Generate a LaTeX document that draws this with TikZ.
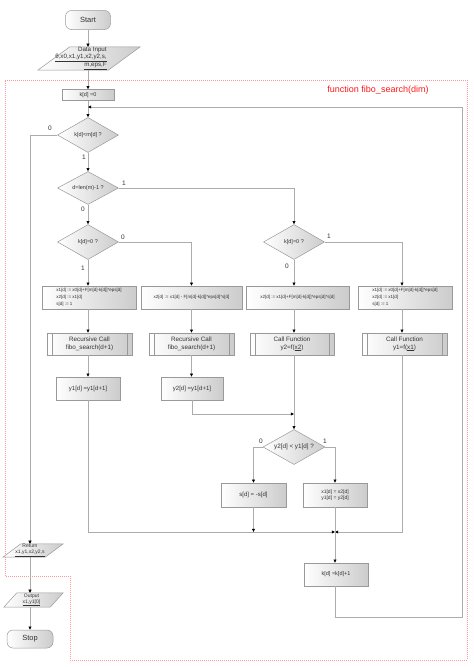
\documentclass[tikz,border=0pt]{standalone}
\usepackage{fontspec}
\setmainfont{Liberation Sans}
\usetikzlibrary{shapes.geometric,arrows.meta,backgrounds}
\newcommand\myfs[2]{\fontsize{#1}{#2}\selectfont}
\newcommand\mypara[2]{\path[parafill] ([xshift=#2]#1.north west) -- (#1.north east) -- ([xshift=-#2]#1.south east) -- (#1.south west) -- cycle;}
\begin{document}
\begin{tikzpicture}[x=1pt,y=-1pt,
  box/.style={draw=gray!80, line width=0.5pt, left color=white, right color=gray!40, text=black!80, inner sep=1pt, align=center},
  parafill/.style={draw=gray!80, line width=0.5pt, left color=white, right color=gray!40},
  term/.style={box, rectangle, rounded corners=6pt, minimum width=45, minimum height=19, font=\myfs{7.5}{9}},
  proc/.style={box, rectangle, minimum width=#1, minimum height=23, font=\myfs{4.5}{6.8}},
  small/.style={box, rectangle, minimum width=#1, minimum height=23, font=\myfs{6}{7.5}},
  sub/.style={box, rectangle, minimum width=85, minimum height=22, font=\myfs{6.3}{7.6},
    path picture={
      \draw[gray!80, line width=0.5pt] ([xshift=5pt]path picture bounding box.north west) -- ([xshift=5pt]path picture bounding box.south west);
      \draw[gray!80, line width=0.5pt] ([xshift=-5pt]path picture bounding box.north east) -- ([xshift=-5pt]path picture bounding box.south east);}},
  dia/.style={box, diamond, aspect=1.75, minimum width=61, minimum height=35, inner sep=0pt, font=\myfs{5.5}{6.5}},
  iohold/.style={rectangle, inner sep=0pt},
  iotext/.style={align=right, inner sep=0pt, text=black!80},
  conn/.style={draw=gray!65, line width=0.6pt},
  arr/.style={conn, -{Triangle[length=3.2pt,width=3pt,color=black]}},
  lbl/.style={font=\myfs{6.5}{7.5}, text=black!80, inner sep=0pt},
  frame/.style={draw=red!40, line width=0.6pt, dash pattern=on 1pt off 1pt}
]
\useasboundingbox (0,0) rectangle (474,667);

% frame of the function
\draw[frame] (5,80) -- (467,80) -- (467,660) -- (70,660) -- (70,576) -- (5,576) -- cycle;
\node[font=\myfs{9}{10}, text=red!90, inner sep=0pt] (fname) at (378,90) {function fibo\_search(dim)};

% nodes
\node[term] (start) at (88,20) {Start};
\node[iohold, minimum width=102, minimum height=23,
  label={[iotext, font=\myfs{6.2}{7.2}, xshift=-8pt]center:Data Input\\ \underline{θ,x0,x1,y1,x2,y2,s,}\\ \underline{m,eps,F}}] (input) at (89,58.5) {};
\node[small=52, minimum height=11, font=\myfs{5.5}{6.5}] (kinit) at (88,95) {k[d] =0};

\node[dia] (d1) at (88,135) {k[d]<m[d] ?};
\node[dia, minimum height=33] (d2) at (88,188) {d=len(m)-1 ?};
\node[dia] (d3) at (88,242) {k[d]=0 ?};
\node[dia] (d4) at (294,242) {k[d]=0 ?};

\node[proc=94, align=left] (p1) at (89,297.5) {x1[d] := x0[d]+F[m[d]-k[d]]*eps[d]\\ x2[d] := x1[d]\\ s[d] := 1};
\node[proc=101] (p2) at (191.5,297.5) {x2[d] := x1[d] - F[m[d]-k[d]]*eps[d]*s[d]};
\node[proc=103] (p3) at (297.5,297.5) {x2[d] := x1[d]+F[m[d]-k[d]]*eps[d]*s[d]};
\node[proc=94, align=left] (p4) at (405,297.5) {x1[d] := x0[d]+F[m[d]-k[d]]*eps[d]\\ x2[d] := x1[d]\\ s[d] := 1};

\node[sub] (s1) at (89.5,344) {Recursive Call\\ fibo\_search(d+1)};
\node[sub] (s2) at (191.5,344) {Recursive Call\\ fibo\_search(d+1)};
\node[sub, minimum width=84] (s3) at (292,344) {Call Function\\ y2=f(\underline{x2})};
\node[sub] (s4) at (404.5,344) {Call Function\\ y1=f(\underline{x1})};

\node[small=64] (y1b) at (88,388.5) {y1[d] =y1[d+1]};
\node[small=62] (y2b) at (192,388.5) {y2[d] =y1[d+1]};

\node[dia, minimum width=62, font=\myfs{6.3}{7.5}] (d5) at (294,447) {y2[d] < y1[d] ?};
\node[small=65, minimum height=24] (sbox) at (253.5,495) {s[d] = -s[d]};
\node[small=64, minimum height=24, font=\myfs{5}{6.5}] (xbox) at (335,495) {x1[d] = x2[d]\\ y1[d] = y2[d]};
\node[small=64, font=\myfs{5.5}{6.5}] (kinc) at (336,574.5) {k[d] =k[d]+1};

\node[iohold, minimum width=60, minimum height=13,
  label={[iotext, align=center, font=\myfs{5}{5.6}, xshift=-3pt]center:Return\\ \underline{x1,y1,x2,y2,s}}] (ret) at (33,550.5) {};
\node[iohold, minimum width=59, minimum height=14,
  label={[iotext, align=center, font=\myfs{5}{5.8}, xshift=-2pt]center:Output\\ \underline{x1,y1[0]}}] (out) at (33.5,600) {};
\node[term, minimum width=46, minimum height=18] (stop) at (30,639) {Stop};

% parallelogram outlines behind the io nodes
\begin{pgfonlayer}{background}
\mypara{input}{32pt}
\mypara{ret}{18pt}
\mypara{out}{13pt}
\end{pgfonlayer}

% helper coordinates
\coordinate (cx) at (30,0);
\coordinate (colR) at (402,0);
\coordinate (loopin) at (88,107);
\coordinate (loopr) at (462,617);
\coordinate (m1) at (335,532);
\coordinate (m2) at (294,414);

% connectors
\draw[arr] (start.south) -- (start.south |- input.north);
\draw[arr] (input.south -| kinit) -- (kinit.north);
\draw[arr] (kinit.south) -- (d1.north);
\draw[arr] (kinc.south -| m1) |- (loopr) |- (loopin);

\draw[arr] (d1.west) -| (cx |- ret.north);
\draw[arr] (d1.south) -- (d2.north);
\draw[arr] (d2.east) -| (d4.north);
\draw[arr] (d2.south) -- (d3.north);
\draw[arr] (d3.east) -| (p2.north);
\draw[arr] (d3.south) -- (d3.south |- p1.north);
\draw[arr] (d4.east) -| (colR |- p4.north);
\draw[arr] (d4.south) -- (d4.south |- p3.north);

\draw[arr] (p1.south -| d3) -- (d3 |- s1.north);
\draw[arr] (s1.south -| d3) -- (d3 |- y1b.north);
\draw[arr] (y1b.south) |- (m1);
\draw[arr] (p2.south) -- (s2.north);
\draw[arr] (s2.south) -- (s2.south |- y2b.north);
\draw[arr] (y2b.south) |- (m2);
\draw[arr] (p3.south -| d4) -- (d4 |- s3.north);
\draw[arr] (s3.south -| d4) -- (d5.north);
\draw[arr] (p4.south -| colR) -- (colR |- s4.north);
\draw[arr] (s4.south -| colR) |- (m1);

\draw[arr] (d5.west) -| (sbox.north);
\draw[arr] (d5.east) -| (xbox.north);
\draw[arr] (sbox.south) -- (sbox.south |- m1);
\draw[arr] (xbox.south) -- (xbox.south |- kinc.north);

\draw[arr] (cx |- ret.south) -- (cx |- out.north);
\draw[arr] (cx |- out.south) -- (stop.north);

% branch labels
\node[lbl] (l1a) at (50,128) {0};
\node[lbl] (l1b) at (84,157) {1};
\node[lbl] (l2a) at (124,183) {1};
\node[lbl] (l2b) at (83,209) {0};
\node[lbl] (l3a) at (123,237) {0};
\node[lbl] (l3b) at (83,268) {1};
\node[lbl] (l4a) at (329,236) {1};
\node[lbl] (l4b) at (287,266) {0};
\node[lbl] (l5a) at (261,441) {0};
\node[lbl] (l5b) at (325,441) {1};
\end{tikzpicture}
\end{document}
